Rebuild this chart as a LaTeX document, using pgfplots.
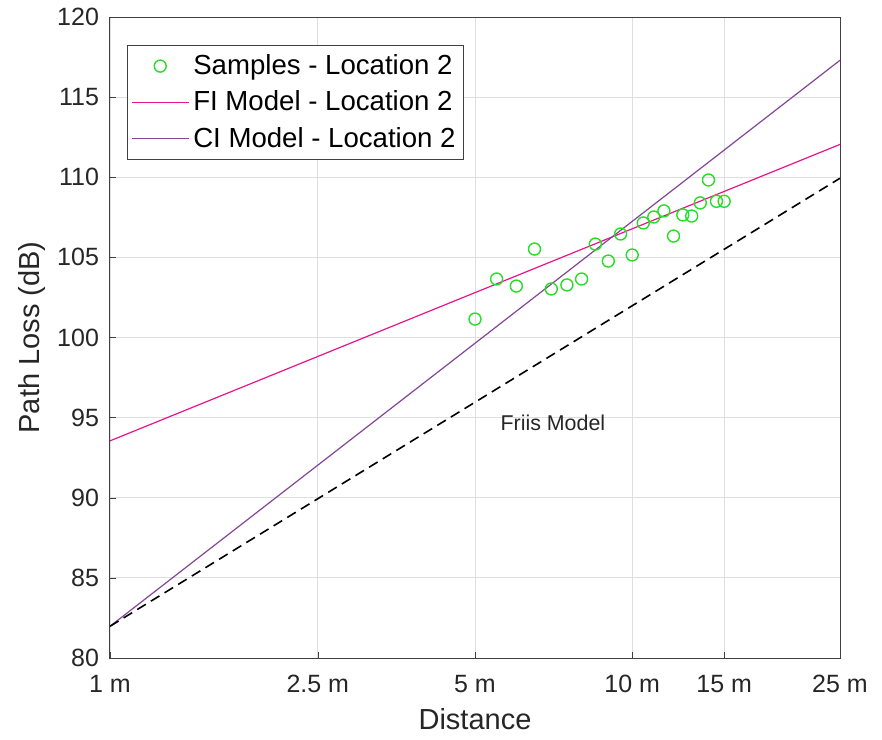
\documentclass[border=0pt]{standalone}
\usepackage{pgfplots}
\pgfplotsset{compat=1.18}
\usepackage{fontspec}
\setmainfont{Liberation Sans}
\definecolor{sampgreen}{RGB}{40,220,40}
\definecolor{fipink}{RGB}{232,20,140}
\definecolor{cipurple}{RGB}{130,70,150}
\begin{document}
\begin{tikzpicture}
\path (-55pt,-40.5pt) rectangle (386pt,329pt);
\begin{axis}[
  at={(0,0)}, anchor=south west,
  scale only axis, width=365pt, height=320.5pt,
  xmode=log, xmin=1, xmax=25, ymin=80, ymax=120,
  log basis x=10,
  xtick={1,2.5,5,10,15,25},
  xticklabels={1 m,2.5 m,5 m,10 m,15 m,25 m},
  ytick={80,85,...,120},
  /pgf/number format/assume math mode=true,
  tick label style={font=\fontsize{12.5}{14}\selectfont, text=black!85},
  xticklabel style={anchor=north, yshift=-4.5pt, text height=9pt},
  yticklabel style={xshift=-2pt},
  label style={font=\fontsize{14.5}{16}\selectfont, text=black!85},
  xlabel style={yshift=-1pt},
  ylabel style={yshift=-1pt},
  xlabel={Distance}, ylabel={Path Loss (dB)},
  grid=major, major grid style={gray!25, line width=0.4pt},
  axis line style={black!75, line width=0.5pt},
  tick style={black!75},
  tick align=inside, major tick length=3pt,
  xtick pos=bottom, ytick pos=left,
  minor tick num=0, log ticks with fixed point,
  legend style={at={(0.023,0.956)}, anchor=north west, font=\fontsize{13.8}{16}\selectfont,
     draw=black!75, row sep=2.6pt, inner xsep=2pt, inner ysep=2.5pt},
  legend cell align=left,
  legend image code/.code={\draw[mark repeat=2,mark phase=2] plot coordinates {(0cm,0cm) (0.5cm,0cm) (1.0cm,0cm)};},
]
\addplot[only marks, mark=o, mark size=3pt, color=sampgreen, line width=0.7pt] coordinates {
 (5,101.15) (5.5,103.65) (6,103.21) (6.5,105.52) (7,103.03) (7.5,103.28)
 (8,103.65) (8.5,105.83) (9,104.77) (9.5,106.46) (10,105.15) (10.5,107.15)
 (11,107.52) (11.5,107.9) (12,106.33) (12.5,107.65) (13,107.58) (13.5,108.4)
 (14,109.83) (14.5,108.5) (15,108.5)};
\addlegendentry{Samples - Location 2}
\addplot[color=fipink, line width=0.6pt] coordinates {(1,93.55) (25,112.05)};
\addlegendentry{FI Model - Location 2}
\addplot[color=cipurple, line width=0.6pt] coordinates {(1,81.98) (25,117.3)};
\addlegendentry{CI Model - Location 2}
\addplot[color=black, line width=0.8pt, dash pattern=on 5pt off 3pt, forget plot] coordinates {(1,81.98) (25,109.94)};
\node[font=\fontsize{10.7}{13}\selectfont, text=black!85] at (axis cs:7.05,94.7) {Friis Model};
\end{axis}
\end{tikzpicture}
\end{document}
